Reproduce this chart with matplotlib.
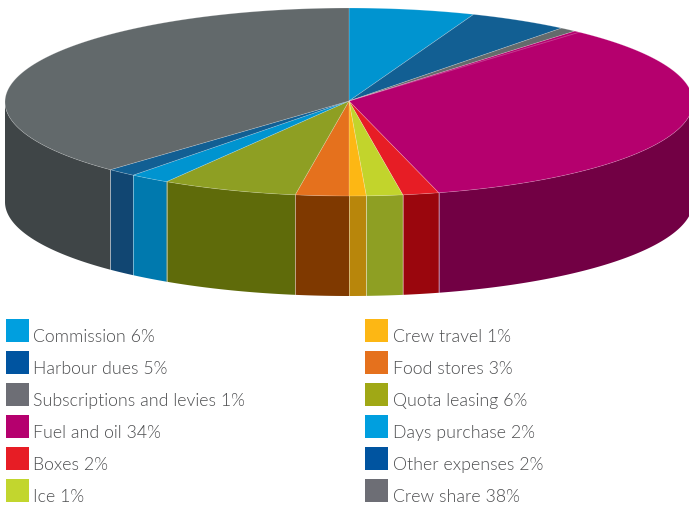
import numpy as np
import matplotlib.pyplot as plt
from matplotlib import font_manager

# slice shares (printed labels are rounded)
names = ["Commission", "Harbour dues", "Subscriptions and levies", "Fuel and oil", "Boxes", "Ice",
         "Crew travel", "Food stores", "Quota leasing", "Days purchase", "Other expenses", "Crew share"]
printed = [6, 5, 1, 34, 2, 1, 1, 3, 6, 2, 2, 38]
shares = [5.9, 4.7, 0.8, 34.4, 1.7, 1.7, 0.8, 2.5, 6.4, 1.9, 1.4, 37.8]

top_colors = ["#0094d0", "#125f93", "#646b6c", "#b5006e", "#e71d25", "#c2d42c",
              "#fdb714", "#e5711d", "#8e9f23", "#0094d0", "#125f93", "#62696b"]
side_colors = ["#0079ae", "#114672", "#3f4547", "#720044", "#9a060d", "#8e9f23",
               "#b8860b", "#7f3900", "#5f6b0a", "#0079ae", "#114672", "#3f4547"]
key_colors = ["#009fdf", "#0054a0", "#6d6e75", "#b5006e", "#e71d25", "#c2d62e",
              "#fdb714", "#e5711d", "#a0a815", "#009fdf", "#0054a0", "#6d6e75"]

cx, cy, rx, ry, depth = 349, 102, 344, 94, 100

# the Light cut of Lato, by file, since weight='light' lands on Hairline
light = font_manager.FontProperties(family='Lato', size=12.8)
for f in font_manager.fontManager.ttflist:
    if f.name == 'Lato' and f.fname.endswith('Lato-Light.ttf'):
        light = font_manager.FontProperties(fname=f.fname, size=12.8)

fig = plt.figure(figsize=(6.89, 5.07), dpi=100)
ax = fig.add_axes([0, 0, 1, 1])
ax.set_xlim(0, 689)
ax.set_ylim(507, 0)
ax.axis('off')


def rim(a, b):
    t = np.radians(np.linspace(a, b, max(int(abs(b - a) * 2), 2)))
    return cx + rx * np.sin(t), cy - ry * np.cos(t)


edges = np.concatenate([[0], np.cumsum(shares)]) * 360 / sum(shares)

# side walls first, only the front half can be seen
for i in range(len(shares)):
    a = max(edges[i], 90)
    b = min(edges[i + 1], 270)
    if b <= a:
        continue
    x, y = rim(a, b)
    ax.fill(np.r_[x, x[::-1]], np.r_[y, y[::-1] + depth], color=side_colors[i], lw=0, zorder=2)
    for e in (a, b):
        if 90 < e < 270:
            ex, ey = rim(e, e + 0.01)
            ax.plot([ex[0], ex[0]], [ey[0], ey[0] + depth], color='white', alpha=0.25, lw=0.7, zorder=3)

# top of the pie
for i in range(len(shares)):
    x, y = rim(edges[i], edges[i + 1])
    ax.fill(np.r_[cx, x], np.r_[cy - 1, y], facecolor=top_colors[i], edgecolor=(1, 1, 1, 0.25), lw=0.5, zorder=4)

# pale line just inside the fuel slice
lx, ly = rim(edges[3] + 1.0, edges[3] + 1.01)
ax.plot([cx, lx[0]], [cy - 1, ly[0]], color='white', alpha=0.25, lw=0.6, zorder=5)

# legend, two columns of six
for i, (name, pct) in enumerate(zip(names, printed)):
    col = i // 6
    row = i % 6
    x0 = 6 + col * 359
    y0 = 319 + row * 32
    ax.fill([x0, x0 + 23, x0 + 23, x0], [y0, y0, y0 + 23, y0 + 23], color=key_colors[i], lw=0)
    ax.text(x0 + 27 + col, y0 + 23, "%s %d%%" % (name, pct), color='#4d4e50', va='baseline', ha='left',
            fontproperties=light)

fig.savefig('out.png', dpi=100)
